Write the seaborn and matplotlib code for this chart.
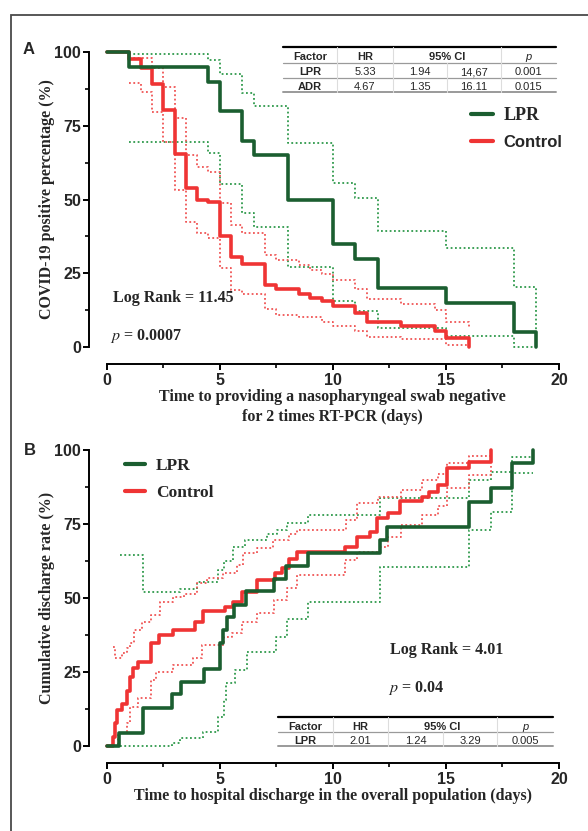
import matplotlib
matplotlib.use("Agg")
import matplotlib.pyplot as plt
from matplotlib.lines import Line2D
from matplotlib.patches import Rectangle
from matplotlib.ticker import MultipleLocator
import seaborn as sns

# ── Panel A: time to negative swab (survival, %) ─────────────
lpr_a_t = [0, 1, 4.5, 5, 6, 6.5, 8, 10, 11, 12, 15, 18, 19]
lpr_a_v = [100, 95, 90, 80, 70, 65, 50, 35, 30, 20, 15, 5, 0]
lpr_a_up_t = [1, 4.5, 5, 6, 6.5, 8, 10, 11, 12, 15, 18, 19]
lpr_a_up_v = [99.3, 97.3, 92.4, 86, 81.7, 69.3, 55.5, 50.4, 39.4, 33.5, 20.4, 0]
lpr_a_lo_t = [1, 4.5, 5, 6, 6.5, 8, 10, 11, 12, 15, 18, 19]
lpr_a_lo_v = [69.6, 65.6, 55.3, 45.5, 40.8, 27.2, 15.7, 12.3, 6.3, 3.7, 0, 0]

ctl_a_t = [0, 1, 1.5, 2, 2.5, 3, 3.5, 4, 4.5, 5, 5.5, 6, 7, 7.5, 8.5, 9, 9.5, 10,
           11, 11.5, 13, 14.5, 15, 16]
ctl_a_v = [100, 97.5, 94.5, 89, 80.5, 65.5, 54, 50, 49, 37.5, 30.5, 28, 21, 19.5,
           18, 16.5, 15.5, 14, 11.5, 8.5, 7, 5.5, 3, 0]
ctl_a_up_t = [1, 2, 2.5, 3, 3.5, 4, 4.5, 5, 5.5, 6, 7, 7.5, 8.5, 9, 9.5, 10, 11,
              11.5, 13, 14.5, 15, 16]
ctl_a_up_v = [97.9, 94.5, 88.2, 77.5, 65, 61.1, 59.4, 48.7, 41.4, 38.5, 31.2, 29.5,
              27.8, 26.1, 24.7, 22.7, 19.6, 16.2, 14.6, 12.5, 8.6, 6]
ctl_a_lo_t = [1, 1.5, 2, 2.5, 3, 3.5, 4, 4.5, 5, 5.5, 6, 7, 7.5, 8.5, 9.5, 10, 11,
              11.5, 13, 15, 16]
ctl_a_lo_v = [89.6, 86.5, 79.8, 69.6, 53.2, 42.5, 38.6, 36.8, 26.7, 19.3, 18, 12.8,
              10.8, 10.1, 8.6, 7.1, 5.5, 3.5, 2.6, 0.7, 0.7]

# ── Panel B: time to hospital discharge (cumulative, %) ──────
lpr_b_t = [0, 0.56, 1.6, 2.9, 3.3, 4.3, 5.0, 5.15, 5.3, 5.65, 6.15, 7.4, 7.95,
           8.9, 12.1, 12.4, 16.0, 17.0, 17.9, 18.85]
lpr_b_v = [0, 4.3, 13.0, 17.4, 21.7, 26.1, 34.8, 39.1, 43.5, 47.8, 52.2, 56.5,
           60.9, 65.2, 69.6, 73.9, 82.6, 87.0, 95.7, 100]
lpr_b_up_t = [0.59, 1.6, 3.25, 3.98, 4.94, 5.2, 5.6, 6.12, 7.08, 7.52, 7.96, 8.92,
              12.1, 16.0, 17.0, 17.9, 18.85]
lpr_b_up_v = [64.5, 51.9, 53.0, 55.5, 59.5, 62.5, 67.3, 69.6, 71.5, 73.0, 75.2,
              78.0, 83.7, 89.9, 92.7, 97.7, 97.7]
lpr_b_lo_t = [0.59, 2.87, 3.24, 4.27, 4.94, 5.2, 5.28, 5.68, 6.19, 7.5, 7.96, 8.88,
              12.1, 16.0, 17.0, 17.9, 18.85]
lpr_b_lo_v = [0, 1.1, 2.8, 4.8, 9.9, 15.5, 21.2, 25.7, 31.7, 36.9, 42.8, 48.5,
              60.6, 73.0, 79.2, 92.3, 92.3]

ctl_b_t = [0, 0.22, 0.3, 0.37, 0.47, 0.66, 0.88, 1.03, 1.18, 1.37, 1.94, 2.3, 2.95,
           3.9, 4.25, 5.25, 5.6, 6.0, 6.65, 7.45, 7.75, 8.05, 8.4, 10.55, 11.05,
           11.65, 11.95, 12.45, 12.98, 13.95, 14.25, 14.65, 15.05, 16.0, 17.0]
ctl_b_v = [0, 0, 3.2, 7.7, 12.2, 14.1, 18.6, 23.4, 26.2, 28.5, 34.9, 37.5, 39.2,
           41.8, 45.5, 47.1, 48.8, 52.1, 56.1, 58.3, 60.0, 63.1, 65.6, 67.3, 70.7,
           72.4, 76.9, 78.6, 82.9, 84.2, 85.9, 88.2, 93.8, 96.1, 100]
ctl_b_up_t = [0.3, 0.37, 0.66, 0.88, 1.03, 1.2, 1.55, 1.96, 2.36, 2.95, 3.4, 3.98,
              4.42, 5.16, 5.75, 6.04, 6.64, 7.37, 8.04, 8.4, 10.6, 11.06, 12.0,
              13.0, 13.94, 14.67, 15.05, 16.0, 17.0]
ctl_b_up_v = [33.5, 29.6, 31.4, 33.0, 34.7, 39.2, 42.0, 44.3, 48.8, 50.4, 51.4,
              55.0, 56.6, 58.3, 61.1, 65.1, 66.8, 69.6, 71.5, 73.0, 76.4, 82.0,
              84.2, 86.5, 89.9, 92.0, 95.5, 98.0, 98.0]
ctl_b_lo_t = [0.37, 0.5, 0.88, 1.03, 1.37, 1.96, 2.2, 2.95, 3.83, 4.2, 5.19, 5.53,
              5.97, 6.66, 7.4, 7.96, 8.4, 10.55, 11.05, 12.1, 12.45, 13.0, 13.95,
              14.65, 15.05, 16.0, 17.0]
ctl_b_lo_v = [0, 4.4, 7.7, 13.3, 16.1, 22.3, 25.1, 27.4, 29.7, 34.1, 36.9, 38.1,
              42.0, 44.8, 49.3, 53.3, 57.8, 62.8, 65.5, 67.3, 70.5, 74.5, 78.0,
              81.0, 87.0, 91.5, 94.5]

# ── Text / table contents ───────────────────────────────────
groups = ["LPR", "Control"]
x_ticks = [0, 5, 10, 15, 20]
y_ticks = [0, 25, 50, 75, 100]
table_header = ["Factor", "HR", "95% CI", "p"]
table_a_rows = [["LPR", "5.33", "1.94", "14,67", "0.001"],
                ["ADR", "4.67", "1.35", "16.11", "0.015"]]
table_b_rows = [["LPR", "2.01", "1.24", "3.29", "0.005"]]

GREEN, GREEN_CI = "#1b5e30", "#2f9a4c"
RED, RED_CI = "#ef3434", "#f05555"
SANS, SERIF = "Liberation Sans", "Liberation Serif"

sns.set_theme(style="ticks")
plt.rcParams["font.family"] = [SANS, "DejaVu Sans"]
plt.rcParams["mathtext.fontset"] = "stix"

W, H = 588, 831
fig = plt.figure(figsize=(W / 100, H / 100), dpi=100)


def px_axes(x0, y_top, x1, y_bot):
    return fig.add_axes([x0 / W, 1 - y_bot / H, (x1 - x0) / W, (y_bot - y_top) / H])


def km(ax, t, v, color, lw, ls="-"):
    sns.lineplot(x=t, y=v, ax=ax, color=color, lw=lw, linestyle=ls,
                 drawstyle="steps-post", estimator=None, sort=False,
                 legend=False, clip_on=False)


def style_axes(ax, xlabel, ylabel, xlabel_y):
    ax.set_xlim(0, 20)
    ax.set_ylim(0, 100)
    sns.despine(ax=ax)
    for side in ["left", "bottom"]:
        ax.spines[side].set_position(("outward", 12.5))
        ax.spines[side].set_linewidth(1.4)
        ax.spines[side].set_color("black")
    ax.spines["left"].set_bounds(0, 100)
    ax.spines["bottom"].set_bounds(0, 20)
    ax.set_xticks(x_ticks)
    ax.set_yticks(y_ticks)
    ax.xaxis.set_minor_locator(MultipleLocator(2.5))
    ax.yaxis.set_minor_locator(MultipleLocator(12.5))
    ax.tick_params(which="major", length=4.5, width=1.4, color="black", pad=1.5,
                   labelsize=11.5)
    ax.tick_params(which="minor", length=3, width=1.2, color="black")
    for lab in ax.get_xticklabels() + ax.get_yticklabels():
        lab.set_fontweight("bold")
        lab.set_fontfamily(SANS)
    ax.set_xlabel(xlabel, fontfamily=SERIF, fontweight="bold", fontsize=11.5,
                  linespacing=1.35)
    ax.xaxis.set_label_coords(0.5, xlabel_y, transform=ax.transAxes)
    ax.xaxis.label.set_verticalalignment("top")
    ax.set_ylabel(ylabel, fontfamily=SERIF, fontweight="bold", fontsize=11.5)
    ax.yaxis.set_label_coords(-0.114, 0.5)
    ax.grid(False)
    ax.set_facecolor("none")


def draw_table(col_edges, y_top, row_h, rows, head_h):
    fx = lambda p: p / W
    fy = lambda p: 1 - p / H
    x0, x1 = col_edges[0], col_edges[-1]
    n = len(rows)
    y_bot = y_top + head_h + n * row_h
    fig.add_artist(Line2D([fx(x0), fx(x1)], [fy(y_top), fy(y_top)], color="black", lw=1.6))
    for i in range(n + 1):
        y = y_top + head_h + i * row_h
        fig.add_artist(Line2D([fx(x0), fx(x1)], [fy(y), fy(y)], color="#9a9a9a",
                              lw=1.4 if i == n else 0.9))
    for j, x in enumerate(col_edges[1:-1], start=1):
        ys = y_top + (head_h if j == 3 else 0)
        fig.add_artist(Line2D([fx(x), fx(x)], [fy(ys), fy(y_bot)], color="#dddddd", lw=0.8))
    heads_x = [(col_edges[0] + col_edges[1]) / 2, (col_edges[1] + col_edges[2]) / 2,
               (col_edges[2] + col_edges[4]) / 2, (col_edges[4] + col_edges[5]) / 2]
    for hx, txt in zip(heads_x, table_header):
        fig.text(fx(hx), fy(y_top + head_h / 2 + 1), txt, ha="center",
                 va="center_baseline", fontsize=8, fontfamily=SANS,
                 fontstyle="italic" if txt == "p" else "normal",
                 fontweight="normal" if txt == "p" else "bold")
    for r, row in enumerate(rows):
        yc = y_top + head_h + (r + 0.5) * row_h + 1
        for c, txt in enumerate(row):
            cx = (col_edges[c] + col_edges[c + 1]) / 2
            fig.text(fx(cx), fy(yc), txt, ha="center", va="center_baseline", fontsize=8,
                     fontfamily=SANS, fontweight="bold" if c == 0 else "normal")


CI_LS = (0, (1, 1.4))

# ── Panel A ─────────────────────────────────────────────────
axA = px_axes(106.7, 52, 559, 347)
km(axA, lpr_a_up_t, lpr_a_up_v, GREEN_CI, 1.3, CI_LS)
km(axA, lpr_a_lo_t, lpr_a_lo_v, GREEN_CI, 1.3, CI_LS)
km(axA, ctl_a_up_t, ctl_a_up_v, RED_CI, 1.3, CI_LS)
km(axA, ctl_a_lo_t, ctl_a_lo_v, RED_CI, 1.3, CI_LS)
km(axA, ctl_a_t, ctl_a_v, RED, 2.6)
km(axA, lpr_a_t, lpr_a_v, GREEN, 2.6)
style_axes(axA, "Time to providing a nasopharyngeal swab negative\nfor 2 times RT-PCR (days)",
           "COVID-19 positive percentage (%)", -0.143)
handles = [Line2D([], [], color=GREEN, lw=3), Line2D([], [], color=RED, lw=3)]
legA = axA.legend(handles, groups, loc="center left", bbox_to_anchor=(0.77, 0.74),
                  frameon=False, handlelength=1.2, handletextpad=0.6,
                  labelspacing=0.6, prop={"family": SERIF, "weight": "bold", "size": 13})
legA.get_texts()[1].set_fontfamily(SANS)
legA.get_texts()[1].set_fontsize(12)
axA.text(0.014, 0.166, "Log Rank = 11.45", transform=axA.transAxes, ha="left",
         va="center", fontfamily=SERIF, fontweight="bold", fontsize=11.5)
axA.text(0.007, 0.037, r"$\mathit{p}$ = 0.0007", transform=axA.transAxes, ha="left",
         va="center", fontfamily=SERIF, fontweight="bold", fontsize=11.5)
draw_table([283, 337, 393, 447, 501, 556], 47, 14.5, table_a_rows, 16)
fig.text(29 / W, 1 - 49 / H, "A", ha="center", va="center", fontsize=12,
         fontweight="bold", fontfamily=SANS)

# ── Panel B ─────────────────────────────────────────────────
axB = px_axes(106.7, 450, 559, 746)
km(axB, lpr_b_up_t, lpr_b_up_v, GREEN_CI, 1.3, CI_LS)
km(axB, lpr_b_lo_t, lpr_b_lo_v, GREEN_CI, 1.3, CI_LS)
km(axB, ctl_b_up_t, ctl_b_up_v, RED_CI, 1.3, CI_LS)
km(axB, ctl_b_lo_t, ctl_b_lo_v, RED_CI, 1.3, CI_LS)
km(axB, ctl_b_t, ctl_b_v, RED, 2.6)
km(axB, lpr_b_t, lpr_b_v, GREEN, 2.6)
style_axes(axB, "Time to hospital discharge in the overall population (days)",
           "Cumulative discharge rate (%)", -0.141)
handles = [Line2D([], [], color=GREEN, lw=3), Line2D([], [], color=RED, lw=3)]
axB.legend(handles, groups, loc="center left", bbox_to_anchor=(0.005, 0.9),
           frameon=False, handlelength=1.2, handletextpad=0.6, labelspacing=0.6,
           prop={"family": SERIF, "weight": "bold", "size": 12.5})
axB.text(0.627, 0.324, "Log Rank = 4.01", transform=axB.transAxes, ha="left",
         va="center", fontfamily=SERIF, fontweight="bold", fontsize=11.5)
axB.text(0.622, 0.196, r"$\mathit{p}$ = 0.04", transform=axB.transAxes, ha="left",
         va="center", fontfamily=SERIF, fontweight="bold", fontsize=11.5)
draw_table([278, 333, 388, 443, 497, 553], 717, 14, table_b_rows, 15)
fig.text(30 / W, 1 - 450 / H, "B", ha="center", va="center", fontsize=12,
         fontweight="bold", fontfamily=SANS)

# outer frame (open to the right and bottom edges)
fig.add_artist(Rectangle((11 / W, -0.5), 2, 1.5 - 15 / H, transform=fig.transFigure,
                         fill=False, ec="#4a4a4a", lw=1.3))

fig.savefig("out.png", dpi=100)
